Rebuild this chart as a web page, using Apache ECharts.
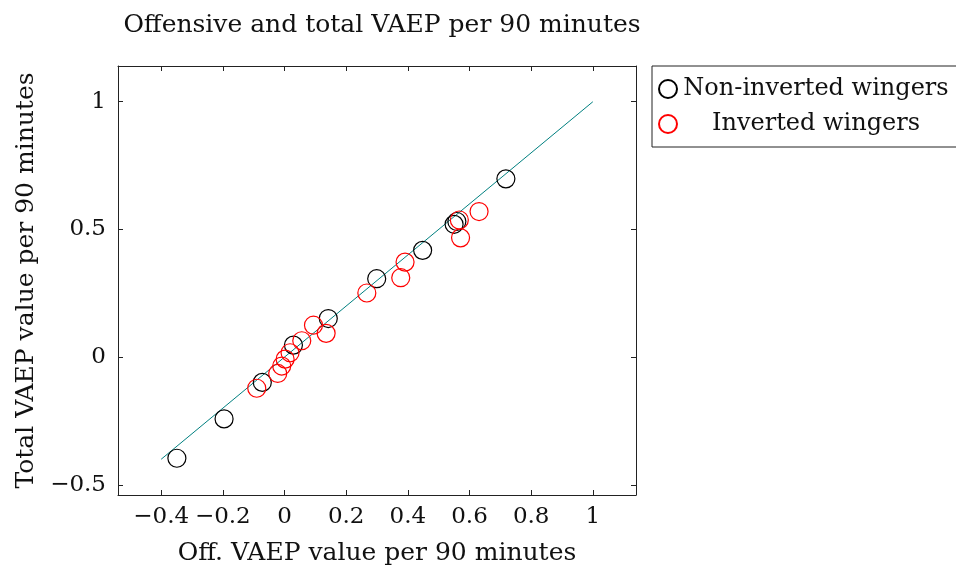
<!DOCTYPE html>
<html>
<head>
<meta charset="utf-8">
<script src="https://cdn.jsdelivr.net/npm/echarts@6/dist/echarts.min.js"></script>
<style>html,body{margin:0;padding:0;background:#fff}#c{width:956px;height:571px}</style>
</head>
<body>
<div id="c"></div>
<script>
const titleText = 'Offensive and total VAEP per 90 minutes';
const xName = 'Off. VAEP value per 90 minutes';
const yName = 'Total VAEP value per 90 minutes';
const seriesNames = ['Non-inverted wingers', 'Inverted wingers'];
const xTicks = [-0.4, -0.2, 0, 0.2, 0.4, 0.6, 0.8, 1];
const yTicks = [-0.5, 0, 0.5, 1];
const nonInverted = [
  [-0.349, -0.396], [-0.196, -0.242], [-0.072, -0.099], [0.029, 0.047],
  [0.142, 0.151], [0.299, 0.307], [0.448, 0.418], [0.550, 0.520],
  [0.559, 0.531], [0.718, 0.698]
];
const inverted = [
  [-0.090, -0.122], [-0.022, -0.064], [-0.009, -0.035], [0.002, -0.008],
  [0.018, 0.017], [0.056, 0.064], [0.094, 0.125], [0.135, 0.093],
  [0.267, 0.251], [0.377, 0.311], [0.391, 0.372], [0.567, 0.537],
  [0.571, 0.467], [0.631, 0.570]
];
const refLine = [[-0.4, -0.4], [1, 1]];

const FONT = 'DejaVu Serif';
const fmt = v => String(v).replace('-', '\u2212');
const chart = echarts.init(document.getElementById('c'));
const axisCommon = {
  type: 'value', min: -0.54, max: 1.14, splitLine: {show: false},
  axisLine: {show: true, onZero: false, lineStyle: {color: '#222', width: 1}},
};
chart.setOption({
  animation: false,
  backgroundColor: '#fff',
  title: {
    text: titleText, left: 377, top: 8, textAlign: 'center',
    textStyle: {fontFamily: FONT, fontSize: 25, fontWeight: 'normal', color: '#111'}
  },
  grid: {left: 118, right: 320, top: 66, bottom: 76, containLabel: false, outerBoundsMode: 'none'},
  legend: {
    left: 652, top: 66, orient: 'vertical', borderColor: '#222', borderWidth: 1,
    padding: [11, 30, 11, 6], itemGap: 11, itemWidth: 18, itemHeight: 18,
    data: seriesNames.map(n => ({name: n, icon: 'circle'})),
    formatter: n => '{a|' + n + '}',
    textStyle: {
      fontFamily: FONT, fontSize: 24, color: '#111',
      rich: {a: {fontFamily: FONT, fontSize: 24, color: '#111', width: 268, align: 'center'}}
    }
  },
  xAxis: [
    Object.assign({}, axisCommon, {
      position: 'bottom', name: xName, nameLocation: 'middle', nameGap: 46,
      nameTextStyle: {fontFamily: FONT, fontSize: 25, color: '#111'},
      axisTick: {show: true, inside: true, length: 5, customValues: xTicks, lineStyle: {color: '#222'}},
      axisLabel: {show: true, customValues: xTicks, formatter: fmt, margin: 11,
        fontFamily: FONT, fontSize: 23, color: '#111'}
    }),
    Object.assign({}, axisCommon, {
      position: 'top',
      axisTick: {show: true, inside: true, length: 5, customValues: xTicks, lineStyle: {color: '#222'}},
      axisLabel: {show: false}
    })
  ],
  yAxis: [
    Object.assign({}, axisCommon, {
      position: 'left', name: yName, nameLocation: 'middle', nameGap: 74, nameRotate: 90,
      nameTextStyle: {fontFamily: FONT, fontSize: 25, color: '#111'},
      axisTick: {show: true, inside: true, length: 5, customValues: yTicks, lineStyle: {color: '#222'}},
      axisLabel: {show: true, customValues: yTicks, formatter: fmt, margin: 12,
        fontFamily: FONT, fontSize: 23, color: '#111'}
    }),
    Object.assign({}, axisCommon, {
      position: 'right',
      axisTick: {show: true, inside: true, length: 5, customValues: yTicks, lineStyle: {color: '#222'}},
      axisLabel: {show: false}
    })
  ],
  series: [
    {
      name: seriesNames[0], type: 'scatter', xAxisIndex: 0, yAxisIndex: 0,
      data: nonInverted, symbol: 'circle', symbolSize: 18,
      itemStyle: {color: 'rgba(0,0,0,0)', borderColor: '#000', borderWidth: 1.2, opacity: 1}
    },
    {
      name: seriesNames[1], type: 'scatter', xAxisIndex: 0, yAxisIndex: 0,
      data: inverted, symbol: 'circle', symbolSize: 18,
      itemStyle: {color: 'rgba(0,0,0,0)', borderColor: '#ff0000', borderWidth: 1.2, opacity: 1}
    },
    {
      name: 'ref', type: 'line', xAxisIndex: 0, yAxisIndex: 0, data: refLine,
      showSymbol: false, symbol: 'none', silent: true,
      lineStyle: {color: '#008080', width: 1}, z: 1
    }
  ]
});
</script>
</body>
</html>
